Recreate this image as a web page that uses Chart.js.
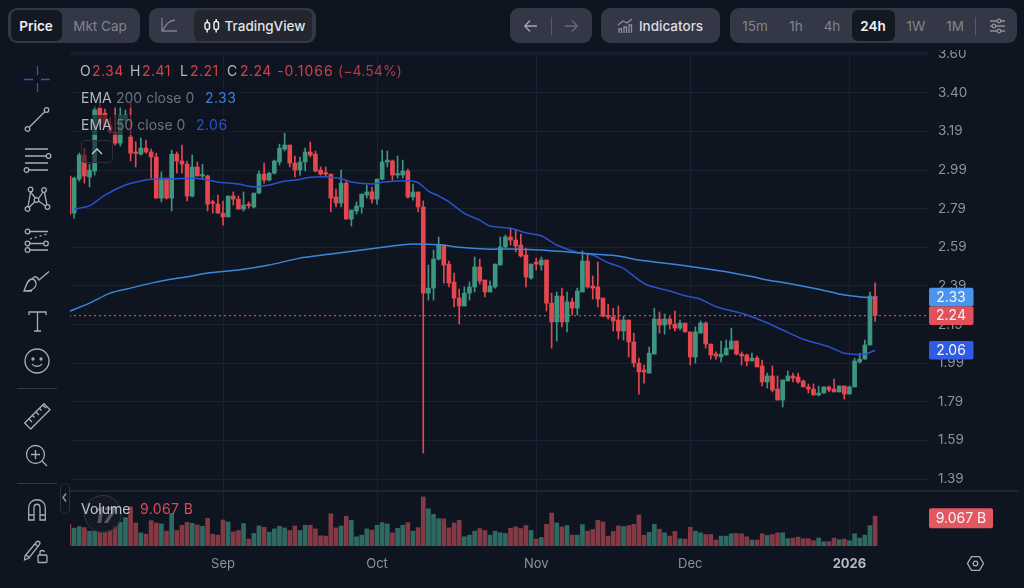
<!DOCTYPE html>
<html>
<head>
<meta charset="utf-8">
<title>Price chart</title>
<script src="https://cdn.jsdelivr.net/npm/chart.js@4/dist/chart.umd.min.js"></script>
<style>
    html, body { margin: 0; padding: 0; background: #0e1420; width: 1024px; height: 588px; overflow: hidden; font-family: Inter, "Noto Sans", sans-serif; }
    #wrap { position: relative; width: 1024px; height: 588px; }
    canvas { position: absolute; left: 0; top: 0; }
    .abs { position: absolute; white-space: nowrap; }
    #topStrip { position: absolute; left: 0; top: 0; width: 1024px; height: 50px; background: #0e1420; }
    .group { position: absolute; top: 8px; height: 35px; background: #343745; border-radius: 9px; }
    .active { position: absolute; top: 10px; height: 31px; border-radius: 6px; background: #141823; }
    .btn { position: absolute; top: 17px; font-size: 13.5px; line-height: 18px; color: #81858f; transform: translateX(-50%); white-space: nowrap; }
    .btn.on { color: #f0f1f3; font-weight: 600; }
    .row { position: absolute; left: 80px; font-size: 14px; line-height: 18px; white-space: nowrap; }
    .row span { position: absolute; top: 0; }
    .num { letter-spacing: .45px; }
    .gray { color: #b4b7bd; } .dim { color: #6f737c; } .red { color: #d5404a; }
    svg { position: absolute; overflow: visible; fill: none; stroke: #a9adb5; stroke-width: 1.3; }
</style>
</head>
<body>
<div id="wrap">
    <canvas id="chart" width="1024" height="588"></canvas>
    <div id="topStrip"></div>

    <!-- header buttons -->
    <div class="group" style="left:8px;width:132px"></div>
    <div class="active" style="left:11px;width:51px"></div>
    <div class="btn on" style="left:36px">Price</div>
    <div class="btn" style="left:100px">Mkt Cap</div>

    <div class="group" style="left:149px;width:167px"></div>
    <div class="active" style="left:194px;width:118px;background:#23262f"></div>
    <svg style="left:161px;top:18px" width="16" height="15" stroke-width="1.4"><path d="M1 0V13H16M2 12C6 5 8 3 14 2" stroke="#7d818c"/></svg>
    <svg style="left:204px;top:19px" width="16" height="14"><g stroke="#f0f1f3" stroke-width="1.4"><rect x="1" y="3.5" width="4.5" height="7" rx="2"/><rect x="10" y="2.5" width="4.5" height="8" rx="2"/><path d="M3.2 0.5V3.5M3.2 10.5V13.5M12.2 0V2.5M12.2 10.5V13.5"/></g></svg>
    <div class="btn" style="left:265px;color:#e2e3e6;font-weight:500">TradingView</div>

    <div class="group" style="left:510px;width:82px"></div>
    <svg style="left:524px;top:19px" width="14" height="14" stroke-width="1.5"><path d="M13 7H1M6 1.5L0.8 7L6 12.5" stroke="#a4a7b0"/></svg>
    <div class="abs" style="left:551px;top:17px;width:1px;height:18px;background:#575a67"></div>
    <svg style="left:564px;top:19px" width="14" height="14" stroke-width="1.5"><path d="M1 7H13M8 1.5L13.2 7L8 12.5" stroke="#686b77"/></svg>

    <div class="group" style="left:601px;width:119px"></div>
    <svg style="left:618px;top:19px" width="15" height="14" stroke-width="1.1"><path d="M0 6L5 2L9 4L14 0M1 14V10H3.5V14M6 14V8H8.5V14M11 14V6H13.5V14" stroke="#8c8f99"/></svg>
    <div class="btn" style="left:671px;color:#dcdde1;font-weight:500">Indicators</div>

    <div class="group" style="left:730px;width:287px"></div>
    <div class="active" style="left:852px;width:43px"></div>
    <div class="btn" style="left:755px">15m</div>
    <div class="btn" style="left:796px">1h</div>
    <div class="btn" style="left:832px">4h</div>
    <div class="btn on" style="left:873px">24h</div>
    <div class="btn" style="left:916px">1W</div>
    <div class="btn" style="left:955px">1M</div>
    <div class="abs" style="left:975px;top:17px;width:1px;height:18px;background:#575a67"></div>
    <svg style="left:990px;top:19px" width="15" height="14"><path d="M0 2H15M0 7H15M0 12H15" stroke="#8f929c"/><g fill="#343745" stroke="#8f929c"><circle cx="9" cy="2" r="1.8"/><circle cx="4" cy="7" r="1.8"/><circle cx="9" cy="12" r="1.8"/></g></svg>

    <!-- pane borders -->
    <div class="abs" style="left:70px;top:52px;width:858px;height:1px;background:#1b2130"></div>
    <div class="abs" style="left:70px;top:490px;width:948px;height:1.5px;background:#20262f"></div>

    <!-- legend -->
    <div class="row num" style="top:62px">
        <span class="gray" style="left:0">O</span><span class="red" style="left:12px">2.34</span>
        <span class="gray" style="left:50px">H</span><span class="red" style="left:62px">2.41</span>
        <span class="gray" style="left:100px">L</span><span class="red" style="left:110px">2.21</span>
        <span class="gray" style="left:147px">C</span><span class="red" style="left:160px">2.24</span>
        <span class="red" style="left:197px;letter-spacing:1px">-0.1066</span><span class="red" style="left:258px;opacity:.85;letter-spacing:.1px">(−4.54%)</span>
    </div>
    <div class="abs" style="left:78px;top:88px;width:163px;height:20px;background:rgba(14,20,32,.6)"></div>
    <div class="row" style="top:89px">
        <span class="gray" style="left:1px">EMA</span><span class="dim" style="left:36px">200 close 0</span>
        <span class="num" style="left:125px;color:#3d82d6">2.33</span>
    </div>
    <div class="abs" style="left:78px;top:115px;width:154px;height:20px;background:rgba(14,20,32,.6)"></div>
    <div class="row" style="top:116px">
        <span class="gray" style="left:1px">EMA</span><span class="dim" style="left:36px">50 close 0</span>
        <span class="num" style="left:116px;color:#2b52cc">2.06</span>
    </div>
    <div class="abs" style="left:81px;top:140px;width:30px;height:21px;border:1px solid #2b2f3a;border-radius:4px;background:rgba(14,20,32,.55)"></div>
    <svg style="left:91px;top:148px" width="12" height="6" stroke-width="1.6"><path d="M1 6L6 1L11 6" stroke="#c8cad0"/></svg>

    <div class="abs" style="left:84px;top:495px;width:36px;height:36px;border:1px solid #343844;border-radius:50%;background:rgba(24,28,38,.65)"></div>
    <div class="abs" style="left:94px;top:503px;font-size:21px;font-weight:800;color:#555964;font-style:italic">17</div>
    <div class="row" style="top:500px">
        <span class="gray" style="left:1px;color:#c4c6cb">Volume</span><span style="left:60px;color:#dc4a53;letter-spacing:.4px">9.067 B</span>
    </div>
    <div class="abs" style="left:60px;top:483px;width:8px;height:29px;border:1px solid #2b2f3a;border-radius:5px;background:#0e1420"></div>
    <svg style="left:62px;top:493px" width="5" height="9" stroke-width="1.2"><path d="M4 0.5L1 4.5L4 8.5" stroke="#9a9ea6"/></svg>

    <!-- left tools -->
    <svg style="left:24px;top:66px" width="26" height="26" stroke-width="1.3"><path d="M0 13.5H9M17 13.5H26M13.5 0V9M13.5 17V26" stroke="#2f55c8"/></svg>
    <svg style="left:25px;top:107px" width="25" height="25"><circle cx="2.5" cy="22" r="2.3"/><circle cx="21.5" cy="3" r="2.3"/><path d="M4.2 20.3L19.8 4.7"/></svg>
    <svg style="left:24px;top:148px" width="27" height="25"><path d="M1 1H24M1 8H22M1 15H24M5 22H24"/><circle cx="24.5" cy="8" r="2.3"/><circle cx="2.5" cy="22" r="2.3"/></svg>
    <svg style="left:25px;top:187px" width="26" height="26"><circle cx="5.5" cy="2.5" r="2.3"/><circle cx="19" cy="3" r="2.3"/><circle cx="2.5" cy="22" r="2.3"/><circle cx="22.5" cy="20" r="2.3"/><circle cx="11.5" cy="13" r="2.3"/><path d="M5.5 5L3 20M5 4.5L10.5 11M13.5 11.5L18 5M19.5 5.5L22 18M13.5 14L20.5 19M10 14.5L4 20.5"/></svg>
    <svg style="left:25px;top:229px" width="26" height="24"><circle cx="2.5" cy="2.5" r="2.3"/><circle cx="2.5" cy="14.5" r="2.3"/><circle cx="21" cy="14.5" r="2.3"/><circle cx="2.5" cy="21" r="2.3"/><path d="M5 2.5H23M5 14.5H18.5M5 21H23"/><path d="M5 10L22 5" stroke-dasharray="2 3"/></svg>
    <svg style="left:24px;top:271px" width="28" height="21"><path d="M0 20C7 20 9 19 11 16C13 14 12 8 8 8C4 8 2 14 0 20ZM0 20H8M13 6L15 9L25 0.5M12 4"/><path d="M8 8C10 5 13 5 14 8"/></svg>
    <svg style="left:29px;top:311px" width="18" height="21"><path d="M0 4V1H17V4M8.5 1V20M5 20H12"/></svg>
    <svg style="left:24px;top:348px" width="26" height="26"><circle cx="13" cy="13" r="12"/><circle cx="9" cy="11" r="1" fill="#a9adb5"/><circle cx="17" cy="11" r="1" fill="#a9adb5"/><path d="M8 16C10 19 16 19 18 16"/></svg>
    <div class="abs" style="left:17px;top:388px;width:40px;height:1px;background:#353944"></div>
    <svg style="left:24px;top:403px" width="27" height="27"><path d="M0.7 20L20 0.7L26 6.7L6.7 26ZM5 16L8 19M8.5 12.5L10.5 14.5M12 9L15 12M15.5 5.5L17.5 7.5M19 2.5L22 5"/></svg>
    <svg style="left:26px;top:445px" width="22" height="22"><circle cx="9.5" cy="9.5" r="9"/><path d="M9.5 5V14M5 9.5H14M16 16L21 21"/></svg>
    <div class="abs" style="left:17px;top:483px;width:40px;height:1px;background:#353944"></div>
    <svg style="left:28px;top:499px" width="18" height="22"><path d="M0.7 21V9C0.7 -2 17.3 -2 17.3 9V21H12V9C12 4 6 4 6 9V21ZM0.7 16H6M12 16H17.3"/></svg>
    <svg style="left:24px;top:539px" width="25" height="25"><path d="M1 17L12 3.5C14 1 17 3 15.5 5.5L5 19L0.5 21ZM1.5 15.5L5 18.5M11 5L14.5 8"/><rect x="14" y="16" width="9" height="7.5" rx="1"/><path d="M16 16V13C16 11 20 11 20.5 13"/></svg>

    <svg style="left:967px;top:556px" width="17" height="15"><path d="M4.5 0.7H12.5L16.5 7.5L12.5 14.3H4.5L0.5 7.5Z"/><circle cx="8.5" cy="7.5" r="2.3"/></svg>
</div>

<script>
// x is the day index, 0 = 2 Aug
const monthTicks = [30, 60, 91, 121, 152];
const monthLabels = ['Sep', 'Oct', 'Nov', 'Dec', '2026'];

const priceTicks = [3.60, 3.40, 3.198, 2.997, 2.796, 2.595, 2.395, 2.194, 1.993, 1.792, 1.591, 1.39];
const priceTickLabels = ['3.60', '3.40', '3.19', '2.99', '2.79', '2.59', '2.39', '2.19', '1.99', '1.79', '1.59', '1.39'];

const opens = [2.966,2.773,2.950,3.075,2.961,2.992,3.319,3.293,3.231,3.195,3.137,3.257,3.169,3.091,3.080,3.111,3.091,3.065,2.851,2.955,
    2.851,3.080,3.044,3.028,2.862,3.013,2.966,2.966,2.831,2.820,2.773,2.753,2.862,2.846,2.794,2.818,2.805,2.877,2.976,2.945,
    2.981,3.039,3.106,3.127,3.033,2.997,3.039,3.091,3.080,2.997,2.983,2.976,2.857,2.825,2.929,2.742,2.784,2.805,2.867,2.883,
    2.846,2.950,3.039,3.044,2.971,2.971,2.992,2.857,2.883,2.805,2.357,2.383,2.534,2.607,2.508,2.414,2.331,2.290,2.357,2.389,
    2.493,2.425,2.363,2.389,2.503,2.597,2.649,2.633,2.607,2.555,2.435,2.519,2.503,2.529,2.305,2.207,2.342,2.207,2.311,2.279,
    2.363,2.524,2.394,2.389,2.331,2.238,2.233,2.217,2.160,2.217,2.103,1.993,1.957,1.941,2.040,2.222,2.191,2.222,2.196,2.175,
    2.201,2.155,2.025,2.149,2.201,2.092,2.040,2.025,2.035,2.066,2.108,2.040,2.035,2.004,2.019,1.978,1.895,1.926,1.858,1.801,
    1.900,1.926,1.921,1.900,1.869,1.858,1.827,1.837,1.869,1.858,1.843,1.874,1.832,1.869,1.999,2.014,2.087,2.34];
const highs = [2.976,2.961,3.085,3.111,3.028,3.330,3.351,3.314,3.267,3.325,3.325,3.309,3.345,3.144,3.163,3.153,3.106,3.085,2.987,2.955,
    3.101,3.091,3.127,3.044,3.075,3.039,3.028,2.971,2.841,2.867,2.836,2.862,2.883,2.862,2.883,2.831,2.877,2.992,3.033,2.985,
    3.049,3.132,3.189,3.127,3.070,3.065,3.111,3.143,3.096,3.013,3.013,2.976,2.898,2.997,2.945,2.789,2.831,2.872,2.919,2.909,
    2.950,3.101,3.096,3.049,3.070,3.049,3.002,2.924,2.883,2.836,2.503,2.581,2.649,2.607,2.524,2.461,2.378,2.389,2.415,2.545,
    2.534,2.425,2.420,2.508,2.649,2.659,2.695,2.685,2.664,2.591,2.508,2.539,2.545,2.529,2.357,2.363,2.383,2.363,2.331,2.383,
    2.576,2.565,2.446,2.519,2.331,2.300,2.279,2.290,2.238,2.217,2.149,2.019,1.983,2.077,2.279,2.259,2.248,2.233,2.264,2.217,
    2.201,2.155,2.181,2.212,2.207,2.092,2.051,2.108,2.113,2.175,2.108,2.051,2.040,2.045,2.030,2.009,1.941,1.978,1.926,1.905,
    1.952,1.941,1.941,1.905,1.884,1.884,1.874,1.869,1.874,1.910,1.874,1.874,1.874,2.019,2.045,2.113,2.363,2.41];
const lows = [2.758,2.747,2.940,2.929,2.909,2.971,3.226,3.215,3.189,3.127,3.122,3.236,3.044,3.013,3.075,3.085,2.955,2.851,2.831,2.846,
    2.784,2.981,2.981,2.836,2.857,2.966,2.950,2.784,2.773,2.773,2.711,2.753,2.815,2.794,2.784,2.799,2.800,2.877,2.929,2.940,
    2.976,3.023,3.096,3.013,2.961,2.971,2.992,3.065,2.987,2.971,2.961,2.779,2.805,2.805,2.742,2.706,2.768,2.773,2.851,2.825,
    2.820,2.945,3.013,2.945,2.955,2.955,2.851,2.841,2.779,1.525,2.321,2.321,2.529,2.409,2.389,2.285,2.196,2.290,2.321,2.363,
    2.404,2.337,2.363,2.383,2.503,2.591,2.607,2.571,2.545,2.389,2.430,2.477,2.477,2.264,2.071,2.108,2.181,2.155,2.243,2.243,
    2.363,2.383,2.326,2.285,2.233,2.222,2.160,2.118,2.113,2.025,1.973,1.832,1.889,1.941,2.040,2.149,2.144,2.170,2.160,2.165,
    2.155,1.983,1.993,2.149,2.071,2.014,2.014,1.999,2.035,2.066,2.035,1.983,1.978,2.004,1.973,1.874,1.863,1.843,1.801,1.765,
    1.900,1.895,1.889,1.869,1.837,1.827,1.822,1.837,1.843,1.843,1.843,1.806,1.832,1.869,1.993,2.014,2.087,2.21];
const closes = [2.768,2.955,3.075,2.966,2.997,3.309,3.241,3.226,3.195,3.137,3.283,3.283,3.085,3.083,3.111,3.091,3.065,2.851,2.955,2.851,
    3.080,3.044,3.028,2.862,3.013,2.966,2.971,2.820,2.824,2.773,2.753,2.862,2.846,2.794,2.815,2.812,2.877,2.976,2.945,2.981,
    3.044,3.111,3.127,3.033,2.997,3.039,3.091,3.075,2.992,2.976,2.976,2.851,2.825,2.929,2.742,2.789,2.810,2.872,2.883,2.846,
    2.950,3.039,3.049,2.971,2.976,2.992,2.857,2.883,2.805,2.357,2.383,2.534,2.607,2.503,2.409,2.331,2.290,2.357,2.389,2.493,
    2.420,2.363,2.394,2.508,2.597,2.649,2.633,2.602,2.550,2.441,2.508,2.508,2.529,2.305,2.207,2.342,2.207,2.311,2.279,2.368,
    2.524,2.389,2.383,2.326,2.238,2.233,2.212,2.160,2.217,2.103,1.993,1.947,1.947,2.045,2.222,2.191,2.222,2.196,2.175,2.201,
    2.155,2.025,2.155,2.201,2.092,2.035,2.030,2.040,2.071,2.108,2.040,2.030,2.004,2.019,1.973,1.895,1.926,1.853,1.801,1.905,
    1.926,1.915,1.895,1.869,1.858,1.827,1.837,1.869,1.853,1.843,1.874,1.832,1.869,2.004,2.014,2.087,2.342,2.24];
// billions
const volumes = [6.6,5.4,5.9,5.6,4.5,4.5,4.3,4.3,4.8,5.9,7.2,8.6,11.9,7.0,4.0,3.6,7.7,7.0,6.7,4.5,
    9.9,4.7,6.3,7.2,6.9,6.4,6.0,8.4,3.6,3.3,7.9,7.3,4.3,4.7,6.8,2.1,3.8,6.1,5.7,4.2,
    5.2,6.0,5.5,4.7,6.1,4.7,6.3,6.3,5.2,3.1,3.0,9.8,5.5,6.1,9.0,7.8,2.8,3.3,5.2,4.8,
    6.3,7.1,6.7,4.0,5.4,6.3,7.1,4.5,5.6,14.9,11.3,9.6,8.3,8.2,5.5,7.0,7.8,2.8,3.3,4.5,
    5.3,4.7,3.3,4.5,4.0,3.8,5.4,5.8,5.3,6.2,4.7,2.1,2.6,6.6,10.0,7.0,5.8,6.2,3.3,3.3,
    6.5,4.5,5.0,7.8,7.3,3.0,4.4,6.1,5.9,6.2,6.6,9.4,3.3,4.2,6.6,5.1,4.0,3.0,4.4,2.2,
    2.1,5.7,4.5,4.0,3.5,3.5,1.8,3.0,3.0,3.7,3.8,3.7,2.8,1.8,1.8,3.7,3.2,3.5,4.0,4.0,
    2.2,2.4,2.7,2.2,2.2,1.6,2.4,1.3,1.3,2.4,1.9,2.1,1.6,3.7,2.4,3.3,6.2,9.067];

const ema50Days = [1,4,7,11,14,16,21,24,26,29,33,36,39,42,44,47,50,53,55,59,61,64,66,68,70,72,74,77,80,82,86,89,92,95,99,102,105,108,111,113,117,120,123,126,131,135,139,143,148,151,155,157];
const ema50Values = [2.794,2.811,2.867,2.919,2.940,2.949,2.952,2.954,2.950,2.935,2.924,2.910,2.919,2.940,2.945,2.959,2.962,2.952,2.935,2.924,2.933,2.940,2.941,2.931,2.888,2.862,2.832,2.772,2.737,2.706,2.694,2.671,2.655,2.607,2.569,2.555,2.515,2.486,2.425,2.395,2.368,2.343,2.325,2.286,2.252,2.213,2.165,2.117,2.078,2.044,2.039,2.06];
const ema200Days = [0,4,8,12,16,20,24,27,33,39,45,51,57,63,66,70,73,76,81,86,92,98,102,107,111,119,127,133,136,140,146,151,155,157];
const ema200Values = [2.261,2.305,2.357,2.383,2.409,2.430,2.446,2.461,2.477,2.503,2.539,2.560,2.581,2.602,2.611,2.611,2.607,2.595,2.586,2.586,2.581,2.569,2.560,2.550,2.529,2.503,2.472,2.443,2.425,2.408,2.377,2.347,2.335,2.33];

const lastClose = 2.24;
const lastVolume = 9.067;
const volumeTagText = '9.067 B';
const priceTags = [
    { value: 2.24, text: '2.24', color: '#e4505a' },
    { value: 2.33, text: '2.33', color: '#4a94ee' },
    { value: 2.06, text: '2.06', color: '#2f5be6' }
];

const UP = '#3f9680', DOWN = '#e5474f';
const days = opens.map((o, i) => i);
const candleColors = days.map(i => closes[i] >= opens[i] ? UP : DOWN);
const volumeColors = days.map(i => closes[i] >= opens[i] ? '#2f6a62' : '#843a44');

function roundRect(ctx, x, y, w, h, r) {
    ctx.beginPath();
    ctx.roundRect(x, y, w, h, r);
    ctx.fill();
}

const tagPlugin = {
    id: 'tags',
    afterDraw(chart) {
        const ctx = chart.ctx;
        const yPrice = chart.scales.y;
        const left = chart.chartArea.right + 1;
        ctx.save();
        ctx.font = '14px Inter';
        ctx.textAlign = 'center';
        ctx.textBaseline = 'middle';
        // tags sit on their price, pushed up a bit if they would overlap the one below
        let prevTop = null;
        priceTags.forEach(tag => {
            let cy = yPrice.getPixelForValue(tag.value);
            if (prevTop !== null && tag.value > priceTags[0].value && cy + 9.3 > prevTop) cy = prevTop - 9.3;
            if (tag.value === priceTags[0].value) prevTop = cy - 9.3;
            ctx.fillStyle = tag.color;
            roundRect(ctx, left, cy - 9.3, 44.5, 18.6, 2);
            ctx.fillStyle = '#f4f5f7';
            ctx.fillText(tag.text, left + 22, cy + 0.5);
        });
        const vy = chart.scales.yVol.getPixelForValue(lastVolume) + 2;
        ctx.fillStyle = '#e4575f';
        roundRect(ctx, left, vy - 10, 64, 20, 2);
        ctx.fillStyle = '#f4f5f7';
        ctx.fillText(volumeTagText, left + 32, vy + 0.5);
        ctx.restore();
    }
};

new Chart(document.getElementById('chart').getContext('2d'), {
    type: 'bar',
    data: {
        datasets: [
            {
                type: 'line', yAxisID: 'y', order: 0,
                data: ema200Days.map((d, i) => ({ x: d, y: ema200Values[i] })),
                borderColor: '#3d86dc', borderWidth: 1.5, pointRadius: 0, tension: 0.2
            },
            {
                type: 'line', yAxisID: 'y', order: 0,
                data: ema50Days.map((d, i) => ({ x: d, y: ema50Values[i] })),
                borderColor: '#2b52cc', borderWidth: 1.5, pointRadius: 0, tension: 0.2
            },
            {
                type: 'line', yAxisID: 'y', order: 1,
                data: [{ x: 0, y: lastClose }, { x: 168, y: lastClose }],
                borderColor: '#d04a55', borderWidth: 1.2, borderDash: [2, 3], pointRadius: 0
            },
            {
                label: 'body', yAxisID: 'y', order: 2, grouped: false, barThickness: 4, minBarLength: 1.5,
                data: days.map(i => ({ x: i, y: [opens[i], closes[i]] })),
                backgroundColor: candleColors
            },
            {
                label: 'wick', yAxisID: 'y', order: 3, grouped: false, barThickness: 1,
                data: days.map(i => ({ x: i, y: [lows[i], highs[i]] })),
                backgroundColor: candleColors
            },
            {
                label: 'volume', yAxisID: 'yVol', order: 4, grouped: false, barThickness: 4,
                data: days.map(i => ({ x: i, y: volumes[i] })),
                backgroundColor: volumeColors
            }
        ]
    },
    options: {
        responsive: false,
        animation: false,
        events: [],
        layout: { padding: { left: 70, top: 52, right: 0, bottom: 0 } },
        plugins: { legend: { display: false }, tooltip: { enabled: false } },
        scales: {
            x: {
                type: 'linear',
                offset: false,
                min: 0.2,
                max: 167.3,
                afterBuildTicks(scale) { scale.ticks = monthTicks.map(v => ({ value: v })); },
                afterFit(scale) { scale.height = 42; },
                border: { display: false },
                grid: { color: '#1a2130', drawTicks: false, offset: false },
                ticks: {
                    autoSkip: false, maxRotation: 0, padding: 10,
                    color: ctx => ctx.tick && ctx.tick.value === 152 ? '#b6b9c0' : '#8e929b',
                    font: ctx => ({ family: 'Inter', size: 13, weight: ctx.tick && ctx.tick.value === 152 ? 700 : 400 }),
                    callback: value => monthLabels[monthTicks.indexOf(value)]
                }
            },
            y: {
                position: 'right', stack: 'panes', stackWeight: 438, weight: 0,
                min: 1.333,
                max: 3.611,
                afterBuildTicks(scale) { scale.ticks = priceTicks.map(v => ({ value: v })); },
                afterFit(scale) { scale.width = 96; },
                border: { display: false },
                grid: { color: '#1a2130', drawTicks: false },
                ticks: {
                    padding: 10, color: '#8e929b', font: { family: 'Inter', size: 13.5 }, autoSkip: false,
                    callback: (value, index) => priceTickLabels[index]
                }
            },
            yVol: {
                position: 'right', stack: 'panes', stackWeight: 56, weight: 1,
                min: 0,
                max: 17,
                afterFit(scale) { scale.width = 96; },
                border: { display: false },
                grid: { display: false },
                ticks: { display: false }
            }
        }
    },
    plugins: [tagPlugin]
});
</script>
</body>
</html>
